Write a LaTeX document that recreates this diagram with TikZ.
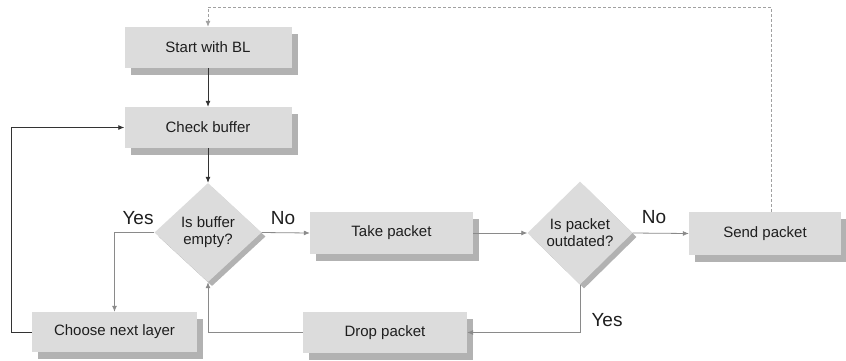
\documentclass[tikz,border=0pt]{standalone}
\usepackage{fontspec}
\setmainfont{Liberation Sans}
\usetikzlibrary{shapes.geometric,arrows.meta,shadows}

\definecolor{boxfill}{HTML}{DCDCDC}
\definecolor{shadowfill}{HTML}{B2B2B2}
\definecolor{linegray}{HTML}{8A8A8A}
\definecolor{textdark}{HTML}{1E1E1E}

\tikzset{
  stepbox/.style={rectangle, fill=boxfill, text=textdark, inner sep=0pt,
    font=\fontsize{15}{17}\selectfont,
    general shadow={fill=shadowfill, shadow xshift=6pt, shadow yshift=-7pt}},
  decide/.style={diamond, fill=boxfill, text=textdark, inner sep=0pt, align=center,
    font=\fontsize{15}{17}\selectfont,
    general shadow={fill=shadowfill, shadow xshift=4pt, shadow yshift=-4pt}},
  tip/.style={-{Latex[length=6pt,width=5pt]}},
  darkflow/.style={tip, draw=black!80, line width=0.8pt},
  grayflow/.style={tip, draw=linegray, line width=0.8pt},
  backflow/.style={tip, draw=linegray!80, line width=0.8pt, dash pattern=on 3pt off 2pt},
  answer/.style={text=textdark, font=\fontsize{19}{21}\selectfont, inner sep=0pt}
}

\begin{document}
\begin{tikzpicture}[x=1pt, y=-1pt]
  \useasboundingbox (0,0) rectangle (846,360);

  % process boxes
  \node[stepbox, minimum width=167pt, minimum height=41pt] (start)  at (208,47.5)    {Start with BL};
  \node[stepbox, minimum width=167pt, minimum height=41pt] (check)  at (208,127.5)   {Check buffer};
  \node[stepbox, minimum width=163pt, minimum height=42pt] (take)   at (391.5,233)   {Take packet};
  \node[stepbox, minimum width=152pt, minimum height=43pt] (send)   at (765,233.5)   {Send packet};
  \node[stepbox, minimum width=164pt, minimum height=41pt] (drop)   at (385,332.5)   {Drop packet};
  \node[stepbox, minimum width=165pt, minimum height=40pt] (choose) at (114.5,332)   {Choose next layer};

  % decisions
  \node[decide, minimum width=107pt, minimum height=99pt]  (empty) at (208,232.5) {Is buffer\\empty?};
  \node[decide, minimum width=105pt, minimum height=103pt] (old)   at (580,233)   {Is packet\\outdated?};

  % main flow
  \draw[darkflow] (start.south) -- (check.north);
  \draw[darkflow] (check.south) -- (empty.north);
  \draw[grayflow] (empty.east) -- (take.west);
  \draw[grayflow] (take.east) -- (old.west);
  \draw[grayflow] (old.east) -- (send.west);

  % branches and loops
  \draw[grayflow] (empty.west) -| (choose.north);
  \draw[grayflow] (old.south) |- (drop.east);
  \draw[grayflow] (drop.west) -| (empty.south);
  \draw[darkflow] (choose.west) -- ++(-20.5,0) coordinate (loopcorner) |- (check.west);

  % return path after sending
  \coordinate (backtop) at ([xshift=6pt]send.north |- 0,7);
  \draw[backflow] ([xshift=6pt]send.north) -- (backtop) -| (start.north);

  % answer labels
  \node[answer] (yes1) at (138,218) {Yes};
  \node[answer] (no1)  at (283,218) {No};
  \node[answer] (no2)  at (654,217) {No};
  \node[answer] (yes2) at (607,320) {Yes};
\end{tikzpicture}
\end{document}
